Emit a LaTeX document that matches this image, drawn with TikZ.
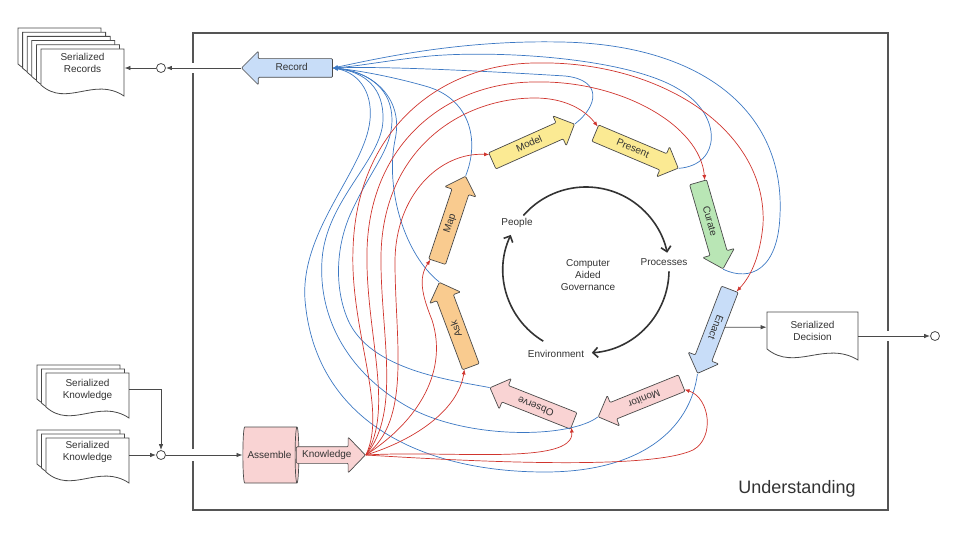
\documentclass[tikz,border=0pt]{standalone}
\usepackage{fontspec}
\setmainfont{Liberation Sans}
\usetikzlibrary{arrows.meta,shapes.arrows,shapes.geometric,calc}

\definecolor{edgegray}{HTML}{4A4A4A}
\definecolor{textgray}{HTML}{333333}
\definecolor{framegray}{HTML}{555555}
\definecolor{yellowF}{HTML}{FBEA93}
\definecolor{orangeF}{HTML}{F9CB8F}
\definecolor{greenF}{HTML}{B9E6B5}
\definecolor{blueF}{HTML}{C8DDF8}
\definecolor{pinkF}{HTML}{F9D3D3}
\definecolor{recline}{HTML}{3C78C3}
\definecolor{knowline}{HTML}{D0352E}

\newcommand{\lbl}{\fontsize{10}{12}\selectfont}
% document shape: left, top, right, bottom of left side
\newcommand{\docshape}[5][]{%
  \filldraw[draw=edgegray,fill=white,line width=0.8pt,#1] ({#2},{#3}) -- ({#4},{#3}) -- ({#4},{(#5)+11})
    .. controls ({(#4)-0.36*((#4)-(#2))},{(#5)-9}) and ({(#2)+0.31*((#4)-(#2))},{(#5)+23}) .. ({#2},{#5}) -- cycle}

\begin{document}
\begin{tikzpicture}[x=1pt,y=-1pt,line width=0.8pt,
  blockarrow/.style={single arrow,draw=edgegray,line width=0.7pt,fill=#1,minimum height=90pt,
    minimum width=32pt,single arrow head extend=7.5pt,single arrow tip angle=90,
    single arrow head indent=0pt,text height=7.5pt,text depth=2pt,inner xsep=2pt,inner ysep=3.75pt,
    rounded corners=1pt,font=\lbl,text=textgray,anchor=tail},
  doctext/.style={align=center,font=\lbl,text=textgray,inner sep=0pt,minimum width=#1},
  port/.style={circle,draw=edgegray,fill=white,minimum size=9pt,inner sep=0pt,line width=0.8pt},
  conn/.style={draw=edgegray,-{Latex[length=6pt,width=4.5pt]}},
  recflow/.style={draw=recline,line width=0.7pt,-{Latex[length=5pt,width=4pt]}},
  knowflow/.style={draw=knowline,line width=0.7pt,-{Latex[length=5pt,width=4pt]}},
  cyclearrow/.style={draw=textgray,line width=1.6pt,-{Straight Barb[length=5pt,width=10pt]}},
  frameline/.style={draw=framegray,line width=1.8pt}]
\useasboundingbox (0,0) rectangle (960,540);

% frame
\draw[frameline] (193,63) -- (193,33) -- (888,33) -- (888,331);
\draw[frameline] (888,341) -- (888,510) -- (193,510) -- (193,461);
\draw[frameline] (193,449) -- (193,73);
\node[font=\fontsize{18}{20}\selectfont,text=textgray] (understanding) at (797,489) {Understanding};

% serialized documents
\foreach \i in {5,4,3,2,1}
  \docshape[shift={(-4.6*\i,-4.2*\i)}]{41}{49}{124}{85};
\docshape{41}{49}{124}{85};
\node[doctext=83pt] (records) at (82.5,62.5) {Serialized\\Records};
\foreach \i in {2,1} {
  \docshape[shift={(-4.5*\i,-4*\i)}]{46}{373}{129}{407};
  \docshape[shift={(-4.5*\i,-4*\i)}]{46}{438}{129}{472};
}
\docshape{46}{373}{129}{407};
\docshape{46}{438}{129}{472};
\node[doctext=83pt] (know1) at (87.5,389.5) {Serialized\\Knowledge};
\node[doctext=83pt] (know2) at (87.5,452) {Serialized\\Knowledge};
\docshape{767}{312}{858}{349};
\node[doctext=91pt] (decision) at (812.5,330.5) {Serialized\\Decision};

% ports
\node[port] (outc1) at (161,68) {};
\node[port] (inc) at (161,455) {};
\node[port] (outc2) at (935,336) {};

% record and knowledge
\node[single arrow,shape border rotate=180,draw=edgegray,line width=0.7pt,fill=blueF,
  minimum height=91pt,minimum width=33pt,single arrow head extend=7.5pt,single arrow tip angle=90,
  text height=7.5pt,text depth=2pt,inner xsep=2pt,inner ysep=4.25pt,rounded corners=1pt,
  font=\lbl,text=textgray,anchor=tip] (record) at (241,68) {Record};
\node[cylinder,draw=edgegray,line width=0.7pt,shape aspect=0.4,minimum height=56pt,minimum width=56pt,
  cylinder uses custom fill,cylinder body fill=pinkF,cylinder end fill=pinkF,inner sep=1pt,
  font=\lbl,text=textgray] (assemble) at (269.5,455) {Assemble};
\node[single arrow,draw=edgegray,line width=0.7pt,fill=pinkF,minimum height=69pt,minimum width=35pt,
  single arrow head extend=9.5pt,single arrow tip angle=92,text height=7.5pt,text depth=2pt,
  inner xsep=1pt,inner ysep=3.25pt,rounded corners=1pt,font=\lbl,text=textgray,anchor=tail]
  (knowledge) at (296,455) {Knowledge};

% ring of activities
\node[blockarrow=orangeF,rotate=110.5] (ask) at (471,367) {Ask};
\node[blockarrow=orangeF,rotate=71.6] (map) at (437,262) {Map};
\node[blockarrow=yellowF,rotate=24.1] (model) at (492,161) {Model};
\node[blockarrow=yellowF,rotate=-22.9] (present) at (595,133) {Present};
\node[blockarrow=greenF,rotate=-73.9] (curate) at (698,182) {Curate};
\node[blockarrow=blueF,rotate=-111] (enact) at (730,289) {Enact};
\node[blockarrow=pinkF,rotate=-158] (monitor) at (682,383) {Monitor};
\node[blockarrow=pinkF,rotate=158.4] (observe) at (574,421) {Observe};

% inner cycle
\coordinate (cagc) at (586,270);
\node[align=center,font=\lbl,text=textgray] (cag) at (588,275.5) {Computer\\Aided\\Governance};
\node[font=\lbl,text=textgray] (people) at (517,223) {People};
\node[font=\lbl,text=textgray] (processes) at (664,262) {Processes};
\node[font=\lbl,text=textgray] (environment) at (556,354) {Environment};
\draw[cyclearrow] ($(cagc)+(139:83pt)$) arc[start angle=139,end angle=12,radius=83pt];
\draw[cyclearrow] ($(cagc)+(-1:83pt)$) arc[start angle=-1,end angle=-86,radius=83pt];
\draw[cyclearrow] ($(cagc)+(-121:83pt)$) arc[start angle=-121,end angle=-205,radius=83pt];

% outer side of each tail
\coordinate (askout) at ($(ask.tail)!7pt!90:(ask.tip)$);
\coordinate (mapout) at ($(map.tail)!7pt!90:(map.tip)$);
\coordinate (modelout) at ($(model.tail)!7pt!90:(model.tip)$);
\coordinate (presentout) at ($(present.tail)!7pt!90:(present.tip)$);
\coordinate (curateout) at ($(curate.tail)!7pt!90:(curate.tip)$);
\coordinate (enactout) at ($(enact.tail)!7pt!90:(enact.tip)$);
\coordinate (monitorout) at ($(monitor.tail)!7pt!90:(monitor.tip)$);
\coordinate (observeout) at ($(observe.tail)!7pt!90:(observe.tip)$);

% records flow
\draw[recflow] (model.tip) .. controls (598,106) and (603,80) .. (565,76) .. controls (500,72) and (390,66) .. (record.tail);
\draw[recflow] (present.tip) .. controls (722,165) and (722,115) .. (680,90) .. controls (630,58) and (500,50) .. (430,56) .. controls (390,60) and (360,66) .. (record.tail);
\draw[recflow] (curate.tip) .. controls (750,282) and (778,270) .. (780,215) .. controls (785,110) and (700,44) .. (560,42) .. controls (460,40) and (380,58) .. (record.tail);
\draw[recflow] (map.tip) .. controls (480,140) and (470,98) .. (425,86) .. controls (390,76) and (355,70) .. (record.tail);
\draw[recflow] (ask.tip) .. controls (405,255) and (385,190) .. (395,140) .. controls (404,100) and (375,72) .. (record.tail);
\draw[recflow] (observe.tip) .. controls (450,380) and (370,370) .. (348,320) .. controls (335,290) and (335,250) .. (350,215) .. controls (370,170) and (392,150) .. (392,120) .. controls (392,90) and (370,72) .. (record.tail);
\draw[recflow] (monitor.tip) .. controls (570,438) and (470,440) .. (410,408) .. controls (350,375) and (318,320) .. (322,260) .. controls (326,200) and (382,160) .. (383,120) .. controls (384,88) and (365,72) .. (record.tail);
\draw[recflow] (enact.tip) .. controls (690,430) and (640,472) .. (545,472) .. controls (420,472) and (315,420) .. (305,300) .. controls (300,230) and (365,170) .. (370,120) .. controls (373,88) and (355,72) .. (record.tail);

% knowledge flow
\draw[knowflow] (knowledge.tip) .. controls (415,440) and (458,410) .. (askout);
\draw[knowflow] (knowledge.tip) .. controls (420,420) and (448,370) .. (432,320) .. controls (422,295) and (418,278) .. (mapout);
\draw[knowflow] (knowledge.tip) .. controls (412,420) and (395,340) .. (395,262) .. controls (395,195) and (440,152) .. (modelout);
\draw[knowflow] (knowledge.tip) .. controls (402,412) and (380,330) .. (381,255) .. controls (383,150) and (460,98) .. (535,98) .. controls (565,98) and (585,110) .. (presentout);
\draw[knowflow] (knowledge.tip) .. controls (395,410) and (365,330) .. (367,250) .. controls (370,140) and (450,82) .. (535,82) .. controls (620,80) and (700,125) .. (curateout);
\draw[knowflow] (knowledge.tip) .. controls (388,410) and (350,330) .. (353,250) .. controls (356,130) and (440,64) .. (535,63) .. controls (660,60) and (768,130) .. (763,225) .. controls (760,255) and (752,275) .. (enactout);
\draw[knowflow] (knowledge.tip) .. controls (450,450) and (575,466) .. (observeout);
\draw[knowflow] (knowledge.tip) .. controls (480,462) and (650,470) .. (693,450) .. controls (715,438) and (710,398) .. (monitorout);

% in and out
\draw[conn] (record.tip) -- (outc1);
\draw[conn] (outc1) -- (outc1 -| records.east);
\draw[conn] (know1.east) -| (inc);
\draw[conn] (inc -| know2.east) -- (inc);
\draw[conn] (inc) -- (assemble);
\draw[conn] (enact) -- (enact -| decision.west);
\draw[conn] (decision.east |- outc2) -- (outc2);
\end{tikzpicture}
\end{document}
